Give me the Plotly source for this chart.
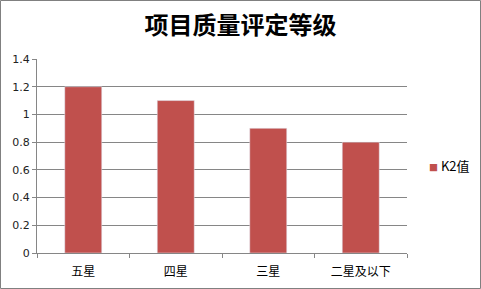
import plotly.graph_objects as go

categories = ["五星", "四星", "三星", "二星及以下"]
values = [1.2, 1.1, 0.9, 0.8]
series_name = "K2值"
title = "项目质量评定等级"

W, H = 481, 289
ml, mr, mt, mb = 37, 74, 59, 36
pw, ph = W - ml - mr, H - mt - mb
color = "#C0504D"

fig = go.Figure()
fig.add_trace(go.Bar(x=categories, y=values, marker_color=color, width=0.4,
                     name=series_name, showlegend=False, hoverinfo="skip"))

fig.update_layout(
    width=W, height=H,
    margin=dict(l=ml, r=mr, t=mt, b=mb, autoexpand=False),
    paper_bgcolor="white", plot_bgcolor="white",
    title=dict(text="<b>" + title + "</b>", x=0.5, xanchor="center", y=1 - 26 / H, yanchor="middle",
               font=dict(family="Noto Sans CJK SC", size=24, color="#000000")),
    font=dict(family="DejaVu Sans", size=10, color="#333333"),
)
# legend entry (symbol + series name)
fig.add_annotation(xref="paper", yref="paper", x=(427 - ml) / pw, y=(H - mb - 165) / ph,
                   xanchor="left", yanchor="middle", showarrow=False,
                   text="<span style='color:%s;font-size:9px'>■</span> %s" % (color, series_name),
                   font=dict(family="Noto Sans CJK SC", size=13, color="#000000"))

fig.update_xaxes(showline=True, linecolor="#868686", linewidth=1, tickson="boundaries",
                 ticks="outside", ticklen=4, tickcolor="#868686", showgrid=False,
                 ticklabelstandoff=8,
                 tickfont=dict(family="Noto Sans CJK SC", size=12, color="#000000"))
fig.update_yaxes(range=[0, 1.4], dtick=0.2, showline=True, linecolor="#868686", linewidth=1,
                 ticks="outside", ticklen=4, tickcolor="#868686",
                 showgrid=True, gridcolor="#868686", gridwidth=1, zeroline=False,
                 tickfont=dict(family="DejaVu Sans", size=11, color="#222222"))

# chart frame
for (x0, y0, x1, y1) in [(0.5, 0.5, W - 0.5, 0.5), (0.5, H - 0.5, W - 0.5, H - 0.5),
                         (0.5, 0.5, 0.5, H - 0.5), (W - 0.5, 0.5, W - 0.5, H - 0.5)]:
    fig.add_shape(type="line", xref="paper", yref="paper",
                  x0=(x0 - ml) / pw, x1=(x1 - ml) / pw,
                  y0=(H - mb - y0) / ph, y1=(H - mb - y1) / ph,
                  line=dict(color="#808080", width=1), layer="above")

fig.write_html("out.html")
